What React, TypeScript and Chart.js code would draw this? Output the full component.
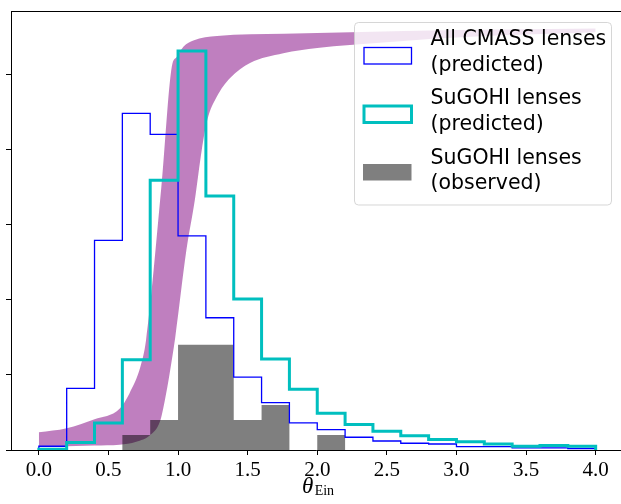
import React, { useEffect, useRef } from 'react';
import { Chart, registerables } from 'chart.js';

Chart.register(...registerables);

// ---- data ----
const binEdges = [0.0, 0.2, 0.4, 0.6, 0.8, 1.0, 1.2, 1.4, 1.6, 1.8, 2.0, 2.2, 2.4, 2.6, 2.8, 3.0, 3.2, 3.4, 3.6, 3.8, 4.0];
const allCmassPredicted = [0.05, 0.82, 2.79, 4.48, 4.20, 2.85, 1.76, 0.97, 0.63, 0.36, 0.27, 0.17, 0.12, 0.09, 0.08, 0.045, 0.045, 0.027, 0.027, 0.02];
const sugohiPredicted = [0.01, 0.10, 0.36, 1.20, 3.59, 5.31, 3.38, 2.01, 1.21, 0.81, 0.49, 0.34, 0.25, 0.19, 0.14, 0.11, 0.08, 0.05, 0.06, 0.05];
const sugohiObserved = [0, 0, 0, 0.2, 0.4, 1.4, 1.4, 0.4, 0.6, 0, 0.2, 0, 0, 0, 0, 0, 0, 0, 0, 0];

const bandUpperX = [0.0, 0.2, 0.4, 0.58, 0.65, 0.73, 0.77, 0.88, 0.955, 0.99, 1.04, 1.11, 1.28, 1.76, 2.24, 3.0, 4.0];
const bandUpperY = [0.235, 0.29, 0.41, 0.55, 0.75, 1.11, 1.46, 3.5, 5.10, 5.23, 5.37, 5.45, 5.51, 5.54, 5.56, 5.59, 5.61];
const bandLowerX = [0.0, 0.4, 0.58, 0.70, 0.80, 0.87, 0.905, 0.94, 0.98, 1.06, 1.12, 1.17, 1.21, 1.278, 1.374, 1.517, 1.756, 2.0, 2.235, 3.0, 4.0];
const bandLowerY = [0.04, 0.06, 0.07, 0.11, 0.20, 0.38, 0.66, 1.02, 1.5, 2.66, 3.32, 3.99, 4.39, 4.70, 4.95, 5.15, 5.28, 5.35, 5.39, 5.49, 5.56];

const xTicks = [0.0, 0.5, 1.0, 1.5, 2.0, 2.5, 3.0, 3.5, 4.0];
const yTicks = [0, 1, 2, 3, 4, 5];

const legendLabels = [
  ['All CMASS lenses', '(predicted)'],
  ['SuGOHI lenses', '(predicted)'],
  ['SuGOHI lenses', '(observed)'],
];

const BLUE = '#0000ff';
const CYAN = '#00bfbf';
const GRAY = 'rgba(0,0,0,0.5)';
const PURPLE = 'rgba(128,0,128,0.5)';

function stepPoints(edges: number[], vals: number[]) {
  const pts: { x: number; y: number }[] = [{ x: edges[0], y: 0 }];
  vals.forEach((v, i) => {
    pts.push({ x: edges[i], y: v });
    pts.push({ x: edges[i + 1], y: v });
  });
  pts.push({ x: edges[edges.length - 1], y: 0 });
  return pts;
}

const overlayPlugin = {
  id: 'overlay',
  afterDatasetsDraw(chart: any) {
    const ctx = chart.ctx as CanvasRenderingContext2D;
    const a = chart.chartArea;
    ctx.save();
    // top spine
    ctx.strokeStyle = '#000';
    ctx.lineWidth = 1;
    ctx.beginPath();
    ctx.moveTo(a.left, a.top + 0.5);
    ctx.lineTo(chart.width, a.top + 0.5);
    ctx.stroke();

    // legend box
    const bx = 354.5, by = 22.5, bw = 257, bh = 182.5, r = 4;
    ctx.beginPath();
    ctx.moveTo(bx + r, by);
    ctx.lineTo(bx + bw - r, by);
    ctx.quadraticCurveTo(bx + bw, by, bx + bw, by + r);
    ctx.lineTo(bx + bw, by + bh - r);
    ctx.quadraticCurveTo(bx + bw, by + bh, bx + bw - r, by + bh);
    ctx.lineTo(bx + r, by + bh);
    ctx.quadraticCurveTo(bx, by + bh, bx, by + bh - r);
    ctx.lineTo(bx, by + r);
    ctx.quadraticCurveTo(bx, by, bx + r, by);
    ctx.closePath();
    ctx.fillStyle = 'rgba(255,255,255,0.8)';
    ctx.fill();
    ctx.strokeStyle = 'rgba(204,204,204,0.8)';
    ctx.lineWidth = 1;
    ctx.stroke();

    const patchX = 364, patchW = 47.5, patchH = 16.5;
    const patchY = [47.5, 106, 164];
    ctx.strokeStyle = BLUE;
    ctx.lineWidth = 1.3;
    ctx.strokeRect(patchX, patchY[0], patchW, patchH);
    ctx.strokeStyle = CYAN;
    ctx.lineWidth = 3;
    ctx.strokeRect(patchX, patchY[1], patchW, patchH);
    ctx.fillStyle = GRAY;
    ctx.fillRect(patchX - 1, patchY[2], patchW + 1, patchH);

    ctx.fillStyle = '#000';
    ctx.font = '20.5px "DejaVu Sans"';
    ctx.textAlign = 'left';
    ctx.textBaseline = 'alphabetic';
    const baselines = [[45, 71], [104, 130], [163.5, 189]];
    legendLabels.forEach((lines, i) => {
      lines.forEach((t, j) => ctx.fillText(t, 430.5, baselines[i][j]));
    });

    // x axis title: theta_Ein
    const thetaFont = 'italic 23px "Liberation Serif"';
    const subFont = '14px "Liberation Serif"';
    ctx.font = thetaFont;
    const w1 = ctx.measureText('θ').width;
    ctx.font = subFont;
    const w2 = ctx.measureText('Ein').width;
    const cx = 318;
    const sx = cx - (w1 + 1.5 + w2) / 2;
    ctx.font = thetaFont;
    ctx.fillText('θ', sx, 493);
    ctx.font = subFont;
    ctx.fillText('Ein', sx + w1 + 1.5, 494.5);
    ctx.restore();
  },
};

export default function App() {
  const canvasRef = useRef<HTMLCanvasElement | null>(null);

  useEffect(() => {
    const canvas = canvasRef.current;
    if (!canvas) return;
    const chart = new Chart(canvas, {
      type: 'line',
      data: {
        datasets: [
          {
            label: 'band lower',
            data: bandLowerX.map((x, i) => ({ x, y: bandLowerY[i] })),
            borderColor: 'rgba(0,0,0,0)',
            borderWidth: 1,
            pointRadius: 0,
            fill: false,
            cubicInterpolationMode: 'monotone',
            order: 6,
          } as any,
          {
            label: 'band upper',
            data: bandUpperX.map((x, i) => ({ x, y: bandUpperY[i] })),
            borderColor: 'rgba(0,0,0,0)',
            backgroundColor: PURPLE,
            borderWidth: 1,
            pointRadius: 0,
            fill: '-1',
            cubicInterpolationMode: 'monotone',
            order: 5,
          } as any,
          {
            label: 'SuGOHI lenses (observed)',
            data: stepPoints(binEdges, sugohiObserved),
            borderColor: 'rgba(0,0,0,0)',
            backgroundColor: GRAY,
            borderWidth: 1,
            pointRadius: 0,
            fill: 'origin',
            tension: 0,
            order: 3,
          } as any,
          {
            label: 'All CMASS lenses (predicted)',
            data: stepPoints(binEdges, allCmassPredicted),
            borderColor: BLUE,
            borderWidth: 1.3,
            pointRadius: 0,
            fill: false,
            tension: 0,
            borderJoinStyle: 'miter',
            order: 2,
          } as any,
          {
            label: 'SuGOHI lenses (predicted)',
            data: stepPoints(binEdges, sugohiPredicted),
            borderColor: CYAN,
            borderWidth: 3,
            pointRadius: 0,
            fill: false,
            tension: 0,
            borderJoinStyle: 'miter',
            order: 1,
          } as any,
        ],
      },
      options: {
        animation: false,
        responsive: false,
        maintainAspectRatio: false,
        layout: { padding: { top: 11, right: 0, left: 0, bottom: 0 } },
        plugins: { legend: { display: false }, tooltip: { enabled: false } },
        scales: {
          x: {
            type: 'linear',
            min: -0.2,
            max: 4.182,
            offset: false,
            grid: { display: true, offset: false, drawOnChartArea: false, drawTicks: true, tickLength: 5, color: '#000', tickColor: '#000', lineWidth: 1 },
            border: { display: true, color: '#000', width: 1 },
            ticks: {
              font: { family: 'Liberation Serif', size: 21 },
              color: '#000',
              padding: 3,
              maxRotation: 0,
              autoSkip: false,
              callback: (v: any) => Number(v).toFixed(1),
            },
            afterBuildTicks: (s: any) => { s.ticks = xTicks.map((v) => ({ value: v })); },
            afterFit: (s: any) => { s.height = 54; },
          },
          y: {
            type: 'linear',
            min: 0,
            max: 5.842,
            grid: { display: true, drawOnChartArea: false, drawTicks: true, tickLength: 5, color: '#000', tickColor: '#000', lineWidth: 1 },
            border: { display: true, color: '#000', width: 1 },
            ticks: { callback: () => '', padding: 0 },
            afterBuildTicks: (s: any) => { s.ticks = yTicks.map((v) => ({ value: v })); },
            afterFit: (s: any) => { s.width = 11; },
          },
        },
      } as any,
      plugins: [overlayPlugin],
    });
    return () => chart.destroy();
  }, []);

  return (
    <div style={{ position: 'fixed', left: 0, top: 0, width: 621, height: 504, background: '#fff' }}>
      <canvas ref={canvasRef} width={621} height={504} style={{ width: 621, height: 504, display: 'block' }} />
    </div>
  );
}
